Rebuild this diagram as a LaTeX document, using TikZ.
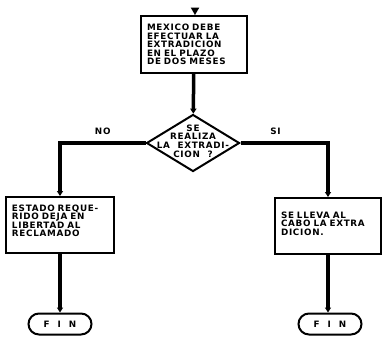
\documentclass[tikz,border=0pt]{standalone}
\usepackage{fontspec}
\setmainfont{DejaVu Sans}[LetterSpace=8, WordSpace=2]
\usetikzlibrary{arrows.meta, positioning, shapes.geometric}
\newcommand{\flowfont}{\fontsize{8.8}{8.6}\selectfont\bfseries}

\begin{document}
\begin{tikzpicture}[x=1pt, y=-1pt,
  box/.style={draw, line width=2pt, minimum height=56pt, inner xsep=6pt,
              align=left, font=\flowfont},
  decision/.style={draw, diamond, line width=2pt, minimum width=93pt,
                   minimum height=57pt, inner sep=0pt},
  fin/.style={draw, rounded corners=10.5pt, line width=2pt, minimum width=63pt,
              minimum height=21pt, font=\flowfont},
  flow/.style={line width=3.5pt, -{Triangle[length=5pt, width=6pt]}},
  lbl/.style={font=\flowfont, above=3pt}
]
  \useasboundingbox (0,0) rectangle (382,340);

  % start mark and first step
  \node[regular polygon, regular polygon sides=3, shape border rotate=180,
        fill, minimum size=10pt, inner sep=0pt] (start) at (195,10) {};
  \node[box, minimum height=57pt, text width=94pt] (mex) at (194,44.5)
    {MEXICO DEBE\\EFECTUAR LA\\EXTRADICION\\EN EL PLAZO\\DE DOS MESES};

  % question
  \node[decision] (ask) at (193,143) {};
  \node[font=\flowfont, align=center, inner sep=0pt] (asktxt) at ([yshift=2pt]ask)
    {SE\\REALIZA\\LA EXTRADI-\\CION ?};

  % the two outcomes
  \node[box, text width=96pt] (lno) at (60,225)
    {ESTADO REQUE-\\RIDO DEJA EN\\LIBERTAD AL\\RECLAMADO\\\mbox{}};
  \node[box, text width=94pt] (rsi) at (328,226)
    {SE LLEVA AL\\CABO LA EXTRA\\DICION.\\[-4pt]\mbox{}};

  \node[fin] (lfin) at (60,324) {F\hspace{8pt}I\hspace{8pt}N};
  \node[fin] (rfin) at (330,324) {F\hspace{8pt}I\hspace{8pt}N};

  \draw[line width=1.5pt] (start) -- (mex);
  \draw[flow] (mex) -- (ask);
  \draw[flow] (ask.west) -| node[pos=0.25, lbl] {NO} (lno.north);
  \draw[flow] (ask.east) -| node[pos=0.2, lbl] {SI} (rsi.north);
  \draw[flow] (lno) -- (lfin);
  \draw[flow] (rsi.south) -- (rsi.south |- rfin.north);
\end{tikzpicture}
\end{document}
